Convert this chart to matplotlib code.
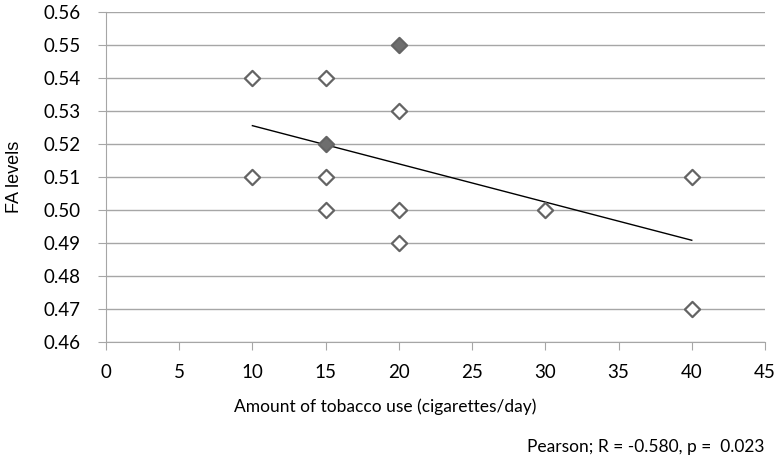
import numpy as np
import matplotlib.pyplot as plt

plt.rcParams['font.family'] = ['Lato', 'DejaVu Sans']

# data
cigs = [10, 10, 15, 15, 15, 15, 20, 20, 20, 20, 30, 40, 40]
fa = [0.54, 0.51, 0.54, 0.52, 0.51, 0.50, 0.55, 0.53, 0.50, 0.49, 0.50, 0.51, 0.47]
filled = [False, False, False, True, False, False, True, False, False, False, False, False, False]
stats_text = 'Pearson; R = -0.580, p =  0.023'

x = np.array(cigs)
y = np.array(fa)
is_filled = np.array(filled)

fig = plt.figure(figsize=(7.79, 4.62), dpi=100)
ax = fig.add_axes([0.136, 0.260, 0.846, 0.714])

grey = '#646464'
ax.scatter(x[~is_filled], y[~is_filled], marker='D', s=60, facecolor='white',
           edgecolor=grey, linewidth=1.6, zorder=3)
ax.scatter(x[is_filled], y[is_filled], marker='D', s=60, facecolor='#6e6e6e',
           edgecolor=grey, linewidth=1.6, zorder=3)

# linear trend line
k, b = np.polyfit(x, y, 1)
xs = np.array([x.min(), x.max()])
ax.plot(xs, k * xs + b, color='black', lw=1, zorder=2)

ax.set_xlim(0, 45)
ax.set_ylim(0.46, 0.56)
ax.set_xticks(np.arange(0, 46, 5))
ax.set_yticks(np.arange(0.46, 0.561, 0.01))
ax.set_yticklabels(['%.2f' % v for v in np.arange(0.46, 0.561, 0.01)])
ax.grid(axis='y', color='#a6a6a6', lw=1)
ax.set_axisbelow(True)
for s in ['top', 'right']:
    ax.spines[s].set_visible(False)
for s in ['left', 'bottom']:
    ax.spines[s].set_color('#a6a6a6')
ax.tick_params(axis='both', colors='#a6a6a6', labelcolor='black', labelsize=13.5, length=6)
ax.tick_params(axis='y', pad=12)
ax.tick_params(axis='x', pad=10)

ax.set_xlabel('Amount of tobacco use (cigarettes/day)', fontsize=12.5, labelpad=17)
ax.xaxis.set_label_coords(0.423, -0.17)
ax.set_ylabel('FA levels', fontsize=13, family=['Liberation Sans', 'DejaVu Sans'])
ax.yaxis.set_label_coords(-0.126, 0.5)
fig.text(0.982, 0.032, stats_text, ha='right', va='center', fontsize=12.5)

fig.savefig('out.png', dpi=100)
